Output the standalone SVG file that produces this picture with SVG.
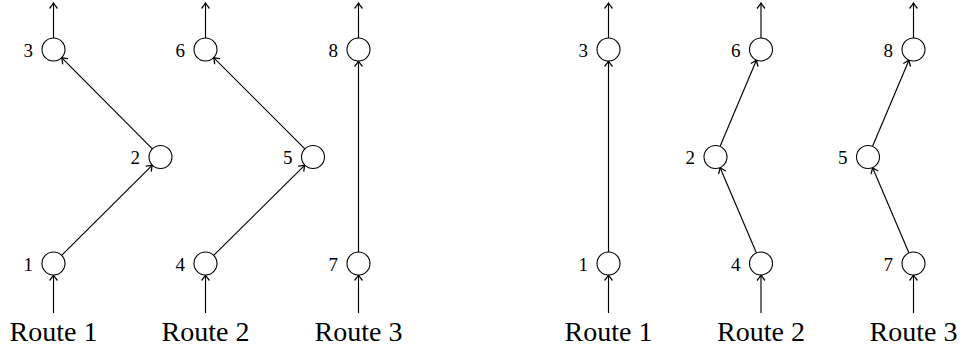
<svg xmlns="http://www.w3.org/2000/svg" width="962" height="351" viewBox="0 0 962 351">
<style>
.n circle{fill:#fff;stroke:#000;stroke-width:1.1}
.lbl{font-family:"Liberation Serif","Times New Roman",serif;font-size:19px;fill:#000;text-anchor:end}
.rt{font-family:"Liberation Serif","Times New Roman",serif;font-size:28px;fill:#000;text-anchor:middle}
#edges line{stroke:#000;stroke-width:1.15;fill:none;marker-end:url(#ah)}
</style>
<defs>
<marker id="ah" markerUnits="userSpaceOnUse" viewBox="-6 -5 8 10" refX="0" refY="0" markerWidth="8" markerHeight="10" orient="auto" overflow="visible">
<path d="M-5,-3.6 Q-1.8,-1 0,0 Q-1.8,1 -5,3.6" fill="none" stroke="#000" stroke-width="1.3" stroke-linecap="round"/>
</marker>
</defs>
<g id="edges">
<line x1="53.5" y1="38" x2="53.5" y2="3"/>
<line x1="205.5" y1="38" x2="205.5" y2="3"/>
<line x1="358.5" y1="38" x2="358.5" y2="3"/>
<line x1="53.5" y1="313" x2="53.5" y2="275"/>
<line x1="205.5" y1="313" x2="205.5" y2="275"/>
<line x1="358.5" y1="313" x2="358.5" y2="275"/>
<line x1="61.65" y1="255.39" x2="152.35" y2="165.11"/>
<line x1="152.39" y1="148.85" x2="61.61" y2="57.65"/>
<line x1="213.67" y1="255.41" x2="304.83" y2="165.09"/>
<line x1="304.87" y1="148.87" x2="213.63" y2="57.63"/>
<line x1="358.5" y1="252" x2="358.5" y2="61"/>
<line x1="608.5" y1="38" x2="608.5" y2="3"/>
<line x1="761" y1="38" x2="761" y2="3"/>
<line x1="913.5" y1="38" x2="913.5" y2="3"/>
<line x1="608.5" y1="313" x2="608.5" y2="275"/>
<line x1="761" y1="313" x2="761" y2="275"/>
<line x1="913.5" y1="313" x2="913.5" y2="275"/>
<line x1="608.5" y1="252" x2="608.5" y2="61"/>
<line x1="756.48" y1="252.92" x2="720.02" y2="167.58"/>
<line x1="719.98" y1="146.41" x2="756.52" y2="60.09"/>
<line x1="908.98" y1="252.92" x2="872.52" y2="167.58"/>
<line x1="872.48" y1="146.41" x2="909.02" y2="60.09"/>
</g>
<g id="L1" class="n"><circle cx="53.5" cy="263.5" r="11.5"/><text class="lbl" x="33" y="270.5">1</text></g>
<g id="L2" class="n"><circle cx="160.5" cy="157" r="11.5"/><text class="lbl" x="140" y="164">2</text></g>
<g id="L3" class="n"><circle cx="53.5" cy="49.5" r="11.5"/><text class="lbl" x="33" y="56.5">3</text></g>
<g id="L4" class="n"><circle cx="205.5" cy="263.5" r="11.5"/><text class="lbl" x="185" y="270.5">4</text></g>
<g id="L5" class="n"><circle cx="313" cy="157" r="11.5"/><text class="lbl" x="292.5" y="164">5</text></g>
<g id="L6" class="n"><circle cx="205.5" cy="49.5" r="11.5"/><text class="lbl" x="185" y="56.5">6</text></g>
<g id="L7" class="n"><circle cx="358.5" cy="263.5" r="11.5"/><text class="lbl" x="338" y="270.5">7</text></g>
<g id="L8" class="n"><circle cx="358.5" cy="49.5" r="11.5"/><text class="lbl" x="338" y="56.5">8</text></g>
<g id="R1" class="n"><circle cx="608.5" cy="263.5" r="11.5"/><text class="lbl" x="588" y="270.5">1</text></g>
<g id="R2" class="n"><circle cx="715.5" cy="157" r="11.5"/><text class="lbl" x="695" y="164">2</text></g>
<g id="R3" class="n"><circle cx="608.5" cy="49.5" r="11.5"/><text class="lbl" x="588" y="56.5">3</text></g>
<g id="R4" class="n"><circle cx="761" cy="263.5" r="11.5"/><text class="lbl" x="740.5" y="270.5">4</text></g>
<g id="R5" class="n"><circle cx="868" cy="157" r="11.5"/><text class="lbl" x="847.5" y="164">5</text></g>
<g id="R6" class="n"><circle cx="761" cy="49.5" r="11.5"/><text class="lbl" x="740.5" y="56.5">6</text></g>
<g id="R7" class="n"><circle cx="913.5" cy="263.5" r="11.5"/><text class="lbl" x="893" y="270.5">7</text></g>
<g id="R8" class="n"><circle cx="913.5" cy="49.5" r="11.5"/><text class="lbl" x="893" y="56.5">8</text></g>
<g id="routes">
<text class="rt" x="53.5" y="341">Route 1</text>
<text class="rt" x="205.5" y="341">Route 2</text>
<text class="rt" x="358.5" y="341">Route 3</text>
<text class="rt" x="608.5" y="341">Route 1</text>
<text class="rt" x="761" y="341">Route 2</text>
<text class="rt" x="913.5" y="341">Route 3</text>
</g>
</svg>
